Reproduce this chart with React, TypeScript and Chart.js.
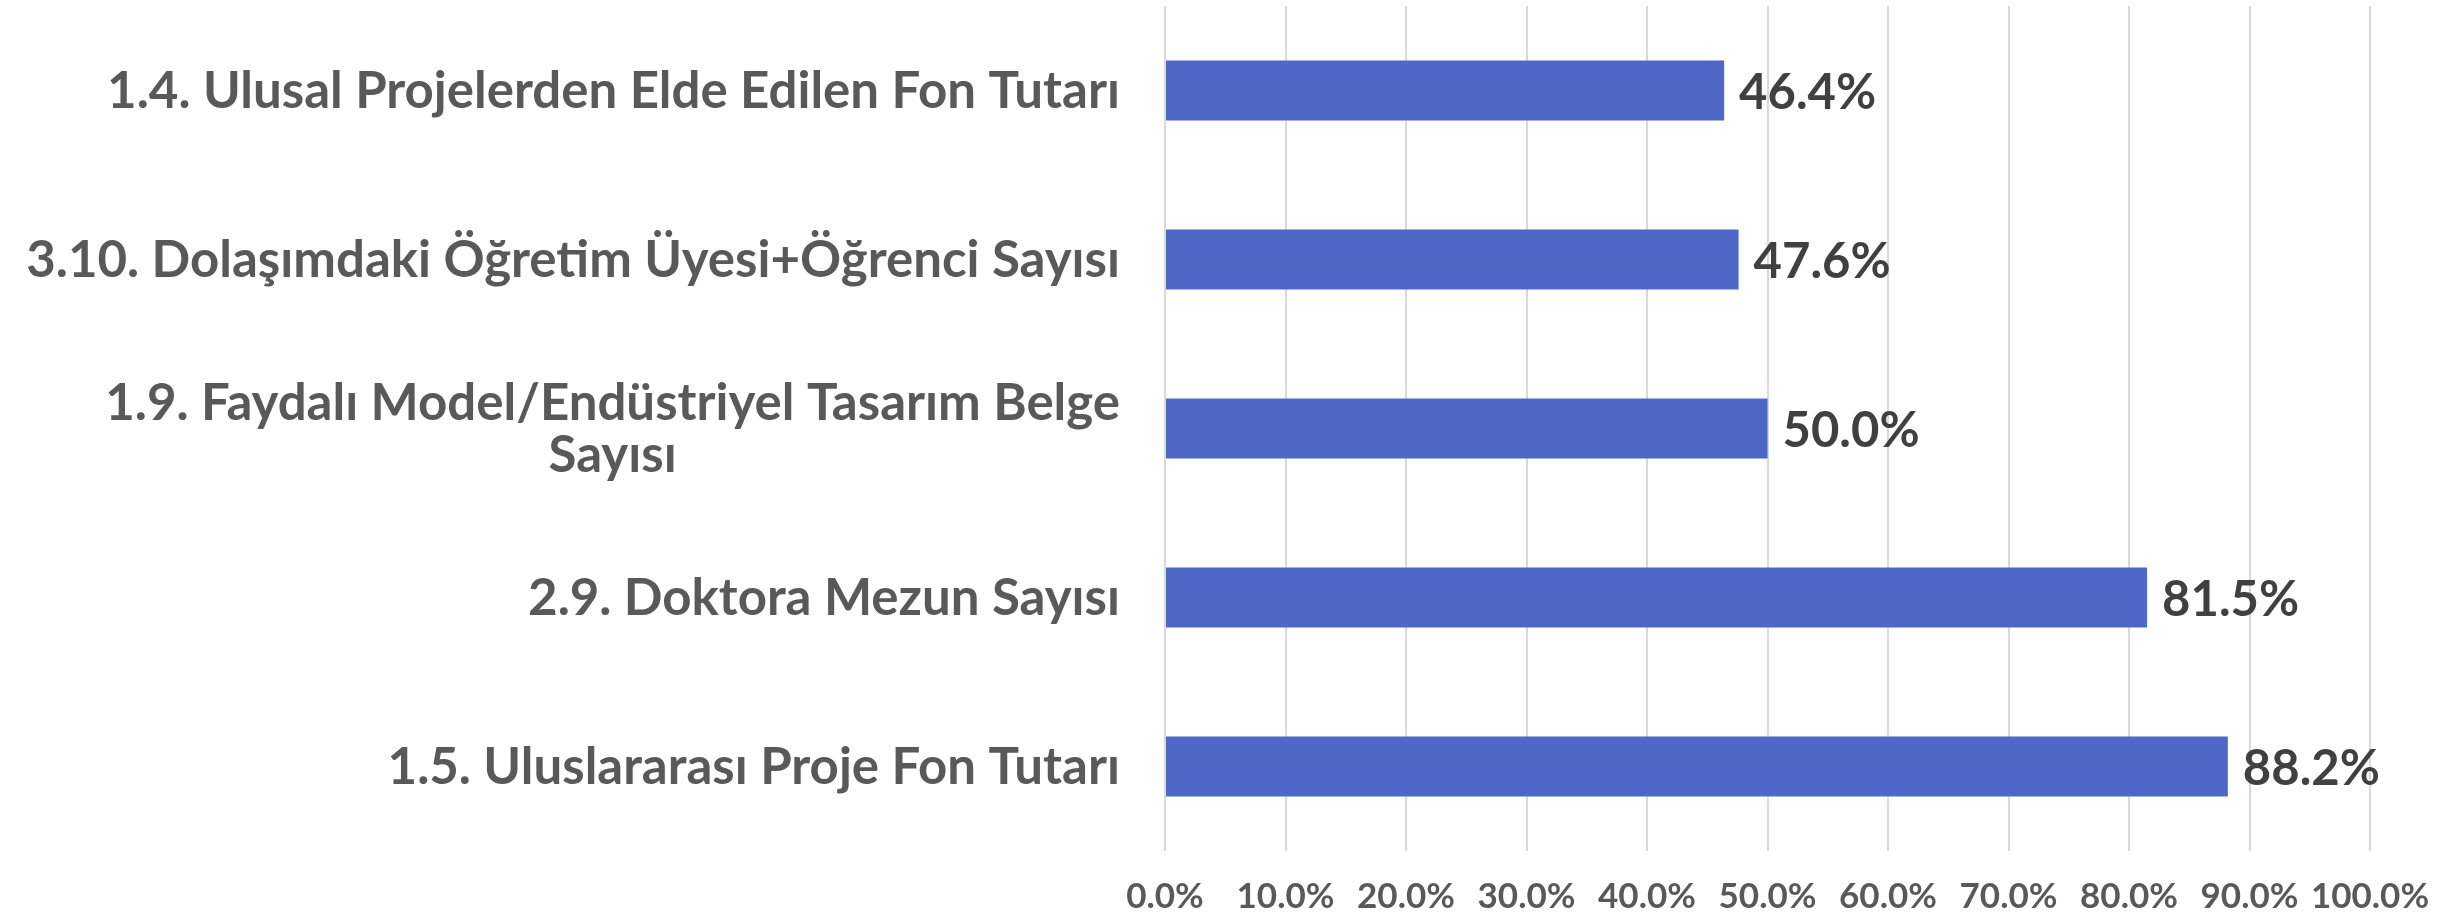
import React, { useEffect, useRef } from "react";
import { Chart, registerables } from "chart.js";

Chart.register(...registerables);

const categories: (string | string[])[] = [
  "1.4. Ulusal Projelerden Elde Edilen Fon Tutarı",
  "3.10. Dolaşımdaki Öğretim Üyesi+Öğrenci Sayısı",
  ["1.9. Faydalı Model/Endüstriyel Tasarım Belge", "Sayısı"],
  "2.9. Doktora Mezun Sayısı",
  "1.5. Uluslararası Proje Fon Tutarı",
];

const values: number[] = [46.4, 47.6, 50.0, 81.5, 88.2];

const xTickLabels: string[] = [
  "0.0%", "10.0%", "20.0%", "30.0%", "40.0%", "50.0%",
  "60.0%", "70.0%", "80.0%", "90.0%", "100.0%",
];

const FONT = "Lato, 'Noto Sans', sans-serif";
const LABEL_SIZE = 51;
const LABEL_LINE = 52;
const VALUE_SIZE = 49;

const labelPlugin = {
  id: "customLabels",
  afterDraw(chart: any) {
    const ctx = chart.ctx as CanvasRenderingContext2D;
    const yScale = chart.scales.y;
    const area = chart.chartArea;
    ctx.save();
    ctx.font = `bold ${LABEL_SIZE}px ${FONT}`;
    ctx.fillStyle = "#595959";
    ctx.textBaseline = "middle";
    ctx.textAlign = "center";
    categories.forEach((cat, i) => {
      const lines = Array.isArray(cat) ? cat : [cat];
      const cy = yScale.getPixelForTick(i);
      const maxW = Math.max(...lines.map((l) => ctx.measureText(l).width));
      const right = area.left - 45;
      const cx = right - maxW / 2;
      lines.forEach((l, j) => {
        ctx.fillText(l, cx, cy + 1 + (j - (lines.length - 1) / 2) * LABEL_LINE);
      });
    });
    const meta = chart.getDatasetMeta(0);
    ctx.font = `bold ${VALUE_SIZE}px ${FONT}`;
    ctx.fillStyle = "#404040";
    ctx.textAlign = "left";
    meta.data.forEach((bar: any, i: number) => {
      ctx.fillText(values[i].toFixed(1) + "%", bar.x + 15, bar.y + 3);
    });
    ctx.restore();
  },
};

export default function App() {
  const ref = useRef<HTMLCanvasElement | null>(null);

  useEffect(() => {
    document.body.style.margin = "0";
    document.body.style.overflow = "hidden";
    const canvas = ref.current;
    if (!canvas) return;
    const chart = new Chart(canvas, {
      type: "bar",
      data: {
        labels: categories as any,
        datasets: [
          {
            data: values,
            backgroundColor: "#4F68C7",
            borderWidth: 0,
            barPercentage: 0.355,
            categoryPercentage: 1,
          },
        ],
      },
      options: {
        indexAxis: "y",
        responsive: false,
        animation: false,
        devicePixelRatio: 1,
        layout: { padding: { top: 6, right: 93, left: 0, bottom: 0 } },
        plugins: {
          legend: { display: false },
          tooltip: { enabled: false },
        },
        scales: {
          x: {
            min: 0,
            max: 100,
            ticks: {
              stepSize: 10,
              color: "#595959",
              font: { family: FONT, size: 35, weight: "bold" },
              padding: 25,
              maxRotation: 0,
              autoSkip: false,
              callback: (_v: any, i: number) => xTickLabels[i],
            },
            grid: { color: "#D9D9D9", lineWidth: 2, drawTicks: false },
            border: { display: false },
            afterFit: (s: any) => {
              s.height = 66;
            },
          },
          y: {
            ticks: { display: false },
            grid: { display: false, drawTicks: false },
            border: { display: false },
            afterFit: (s: any) => {
              s.width = 1165;
            },
          },
        },
      },
      plugins: [labelPlugin],
    });
    return () => chart.destroy();
  }, []);

  return (
    <canvas
      ref={ref}
      width={2463}
      height={917}
      style={{ display: "block", width: 2463, height: 917 }}
    />
  );
}
